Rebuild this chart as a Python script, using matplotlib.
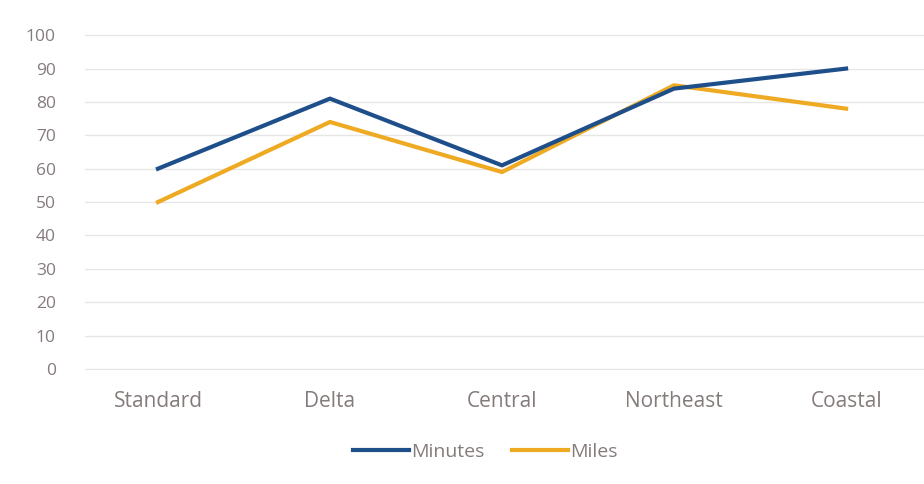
import matplotlib
matplotlib.use("Agg")
import matplotlib.pyplot as plt

regions = ["Standard", "Delta", "Central", "Northeast", "Coastal"]
minutes = [60, 81, 61, 84, 90]
miles = [50, 74, 59, 85, 78]
yticks = list(range(0, 101, 10))

plt.rcParams["font.family"] = ["Open Sans", "DejaVu Sans"]

fig = plt.figure(figsize=(9.24, 4.84), dpi=100)
ax = fig.add_axes([0.092, 0.235, 0.908, 0.695])

x = range(len(regions))
ax.plot(x, minutes, color="#1f4f8a", lw=3, label="Minutes", zorder=3)
ax.plot(x, miles, color="#eeaa22", lw=3, label="Miles", zorder=2)

ax.set_xlim(-0.424, 4.453)
ax.set_ylim(-0.4, 100.4)
ax.set_yticks(yticks)
ax.set_xticks(list(x))
ax.set_xticklabels(regions)
ax.grid(axis="y", color="#e6e6e6", lw=1)
ax.set_axisbelow(True)
for s in ax.spines.values():
    s.set_visible(False)
ax.tick_params(axis="y", length=0, pad=21, labelsize=12.5, labelcolor="#857b7b")
ax.tick_params(axis="x", length=0, pad=15, labelsize=15, labelcolor="#857b7b")

fig.legend(loc="center", bbox_to_anchor=(0.525, 0.066), ncol=2, frameon=False,
           fontsize=14, labelcolor="#857b7b", handlelength=2.9, handletextpad=0.1,
           columnspacing=1.4)

fig.savefig("out.png", dpi=100)
